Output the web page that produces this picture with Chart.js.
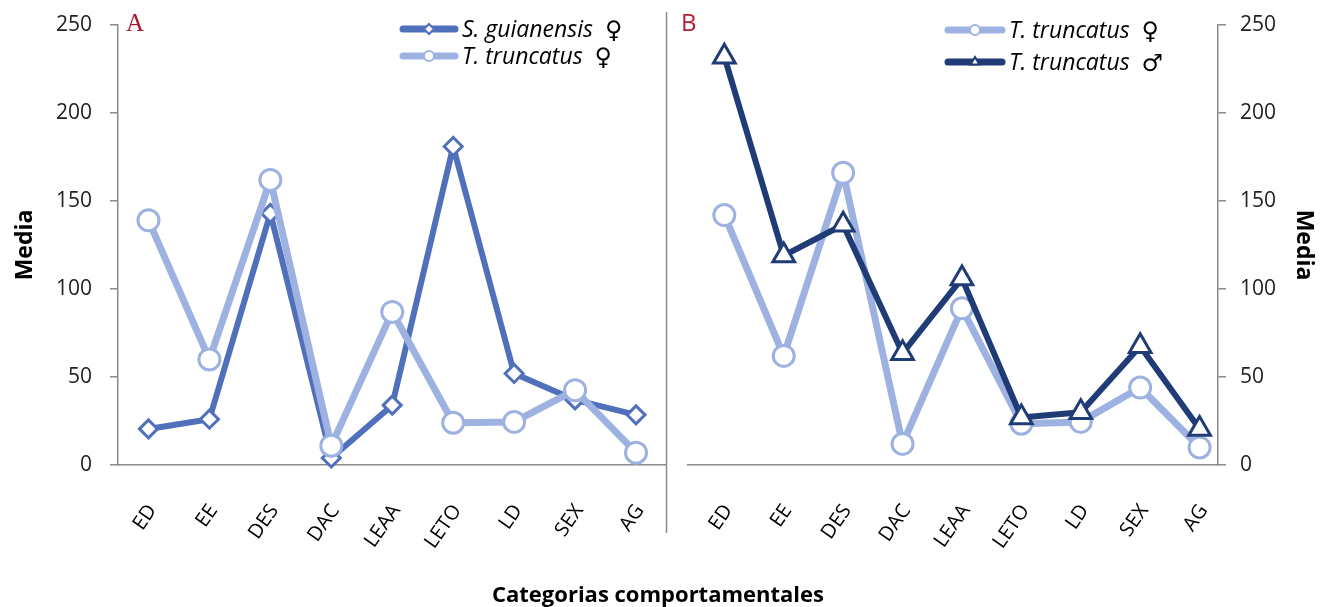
<!DOCTYPE html>
<html><head><meta charset="utf-8">
<script src="https://cdn.jsdelivr.net/npm/chart.js@4"></script>
<style>
html,body{margin:0;padding:0;background:#fff;}
#wrap{position:relative;width:1327px;height:607px;overflow:hidden;background:#fff;}
#cA{position:absolute;left:0;top:0;}
#cB{position:absolute;left:672px;top:0;}
#xt{position:absolute;left:0;width:1316px;top:578px;text-align:center;font:bold 22px 'Open Sans',sans-serif;color:#000;}
</style></head>
<body>
<div id="wrap">
<canvas id="cA" width="680" height="607"></canvas>
<canvas id="cB" width="655" height="607"></canvas>
<div id="xt">Categorias comportamentales</div>
</div>
<script>
// ---- data ----
const categories = ['ED','EE','DES','DAC','LEAA','LETO','LD','SEX','AG'];
const yTickValues = [0, 50, 100, 150, 200, 250];
const sGuianensisFemaleA = [20.5, 26, 143, 4, 34, 181, 52, 37, 28.5];
const tTruncatusFemaleA = [139, 60, 162, 11, 87, 24, 24.5, 42.5, 7];
const tTruncatusFemaleB = [142, 62, 166, 12, 89, 23.5, 24.5, 44, 10];
const tTruncatusMaleB = [232, 119, 136.5, 63.5, 106, 27, 30, 67.5, 20.5];
const labelSG = 'S. guianensis ♀';
const labelTTF = 'T. truncatus ♀';
const labelTTM = 'T. truncatus ♂';
const yTitle = 'Media';

const C_MED = '#5070BC';
const C_LIGHT = '#9DB2E1';
const C_DARK = '#203C76';
const AXIS = '#8a8a8a';

function pts(arr){ return arr.map((v,i)=>({x:i,y:v})); }

function lineDs(label, arr, color, style, radius, order, lw){
  return {label, data: pts(arr), borderColor: color, backgroundColor: color,
    borderWidth: lw, tension: 0, borderJoinStyle:'round', borderCapStyle:'round',
    pointStyle: style, pointRadius: radius, pointHoverRadius: radius,
    pointBorderWidth: 3, pointBackgroundColor:'#fff', pointBorderColor: color,
    order, clip: false};
}

const legendPlugin = {
  id:'customLegend',
  afterDraw(chart, args, opts){
    if(!opts || !opts.items) return;
    const ctx = chart.ctx;
    opts.items.forEach(it=>{
      const ds = chart.data.datasets[it.ds];
      ctx.save();
      ctx.strokeStyle = ds.borderColor; ctx.lineWidth = 7; ctx.lineCap='round';
      ctx.beginPath(); ctx.moveTo(it.x+3, it.y); ctx.lineTo(it.x+opts.lineLen-3, it.y); ctx.stroke();
      ctx.fillStyle='#fff'; ctx.strokeStyle = ds.borderColor; ctx.lineWidth = 2;
      Chart.helpers.drawPoint(ctx, {pointStyle: ds.pointStyle, radius: opts.markerR, borderWidth: 2, rotation:0}, it.x+opts.lineLen/2, it.y);
      const lab = ds.label; const k = lab.lastIndexOf(' ');
      const name = lab.slice(0,k), sym = lab.slice(k+1);
      ctx.fillStyle='#000'; ctx.textBaseline='middle'; ctx.textAlign='left';
      ctx.font = 'italic 23px "Open Sans"';
      const tx = it.x + opts.lineLen + 4;
      ctx.fillText(name, tx, it.y+1);
      const w = ctx.measureText(name).width;
      ctx.font = '24px "DejaVu Sans"';
      ctx.fillText(sym, tx + w + 12, it.y+3);
      ctx.restore();
    });
  }
};

const decoPlugin = {
  id:'deco',
  afterDraw(chart, args, opts){
    if(!opts) return;
    const ctx = chart.ctx; const a = chart.chartArea;
    ctx.save();
    if(opts.sep){
      ctx.strokeStyle = AXIS; ctx.lineWidth = 1.5;
      ctx.beginPath(); ctx.moveTo(a.right, 12); ctx.lineTo(a.right, 533); ctx.stroke();
    }
    ctx.fillStyle = opts.letterColor; ctx.font = opts.letterFont;
    ctx.textBaseline='alphabetic'; ctx.textAlign='left';
    ctx.fillText(opts.letter, opts.lx, opts.ly);
    ctx.restore();
  }
};

function zeroPad(s){ s.paddingTop = 0; s.paddingBottom = 0; s.paddingLeft = 0; s.paddingRight = 0; }

function xScale(min, max){
  return {type:'linear', min, max,
    afterBuildTicks(s){ s.ticks = categories.map((_,i)=>({value:i})); },
    afterFit(s){ s.height = 142; zeroPad(s); },
    grid:{display:false, drawTicks:false},
    border:{display:true, color:AXIS, width:1.5},
    ticks:{autoSkip:false, minRotation:55, maxRotation:55, padding:35, labelOffset:4,
      font:{family:'Open Sans', size:20}, color:'#000',
      callback:(v)=>categories[v] ?? ''}
  };
}
function yScale(pos, width, pad, titlePad){
  return {type:'linear', position:pos, min:0, max:250,
    afterBuildTicks(s){ s.ticks = yTickValues.map(v=>({value:v})); },
    afterFit(s){ s.width = width; zeroPad(s); },
    grid:{drawOnChartArea:false, drawTicks:true, tickLength:8, color:AXIS, lineWidth:1.5},
    border:{display:true, color:AXIS, width:1.5},
    ticks:{padding:pad, font:{family:'Open Sans', size:21}, color:'#222'},
    title:{display:true, text:yTitle, font:{family:'Open Sans', size:23, weight:'bold'}, color:'#000', padding:{top:titlePad, bottom:0}}
  };
}

new Chart(document.getElementById('cA'), {
  type:'line',
  data:{datasets:[
    lineDs(labelSG, sGuianensisFemaleA, C_MED, 'rectRot', 9, 1, 6),
    lineDs(labelTTF, tTruncatusFemaleA, C_LIGHT, 'circle', 10.5, 0, 7)
  ]},
  options:{responsive:false, animation:false, events:[],
    layout:{padding:{top:25, right:8, left:0, bottom:0}},
    scales:{x:xScale(-0.5, 8.5), y:yScale('left', 118, 18, 12)},
    plugins:{legend:{display:false}, tooltip:{enabled:false},
      customLegend:{lineLen:58, markerR:5, items:[{ds:0,x:400,y:29},{ds:1,x:400,y:56}]},
      deco:{sep:true, letter:'A', letterColor:'#A11A2E', letterFont:'25px "Liberation Serif"', lx:126, ly:31}
    }
  },
  plugins:[legendPlugin, decoPlugin]
});

new Chart(document.getElementById('cB'), {
  type:'line',
  data:{datasets:[
    lineDs(labelTTF, tTruncatusFemaleB, C_LIGHT, 'circle', 10.5, 1, 7),
    lineDs(labelTTM, tTruncatusMaleB, C_DARK, 'triangle', 12.5, 0, 6)
  ]},
  options:{responsive:false, animation:false, events:[],
    layout:{padding:{top:25, right:0, left:0, bottom:0}},
    scales:{x:xScale(-0.62, 8.31), y:yScale('right', 109, 14, 10)},
    plugins:{legend:{display:false}, tooltip:{enabled:false},
      customLegend:{lineLen:60, markerR:5, items:[{ds:0,x:273,y:30},{ds:1,x:273,y:62}]},
      deco:{sep:false, letter:'B', letterColor:'#B0202F', letterFont:'24px "Open Sans"', lx:9, ly:31}
    }
  },
  plugins:[legendPlugin, decoPlugin]
});
</script>
</body></html>
